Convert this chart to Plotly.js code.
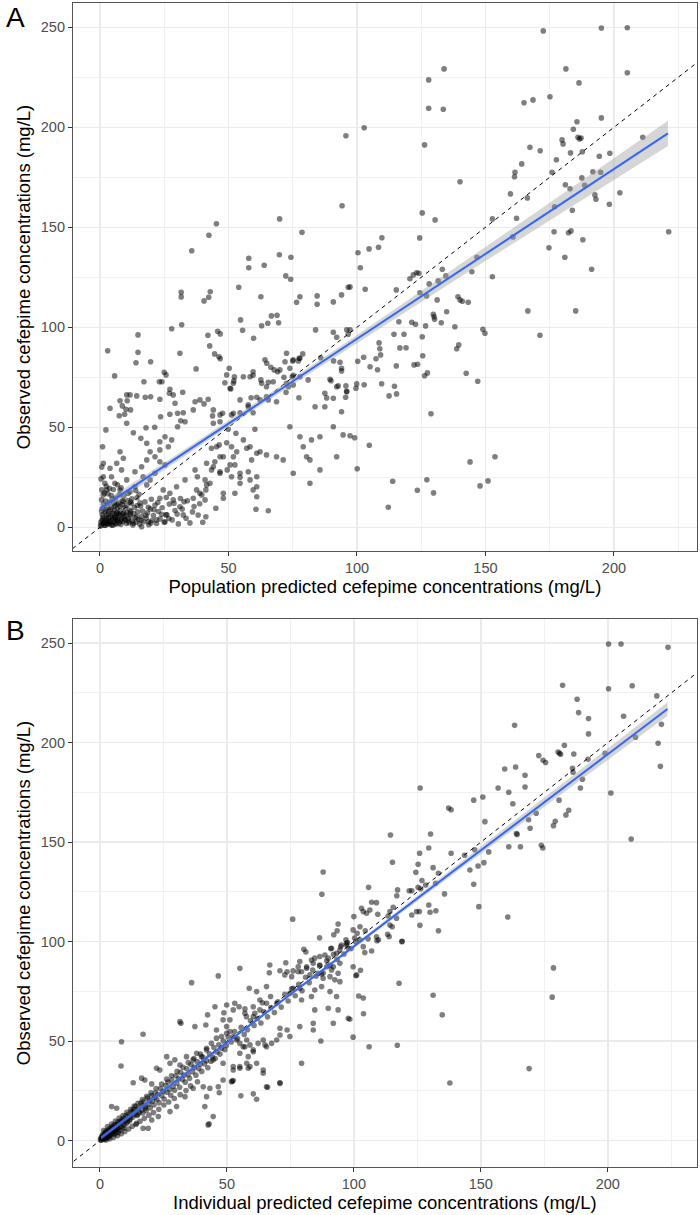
<!DOCTYPE html>
<html>
<head>
<meta charset="utf-8">
<script src="https://cdn.plot.ly/plotly-3.0.1.min.js"></script>
<style>html,body{margin:0;padding:0;background:#fff}#chart{width:700px;height:1215px}</style>
</head>
<body>
<div id="chart"></div>
<script>
// ---------- Panel A: observed vs population predicted (mg/L) ----------
const pointsA = [
[172.5,248.2],[195.1,249.6],[205.2,249.8],[133.9,229.2],[127.9,223.7],[181.3,229.2],[205.2,227.3],[186.4,222.2],[127.9,209.5],[133.6,209],[165,212.3],[168.5,213.7],[175.1,215.3],[102.8,199.8],[126.3,191.2],[195.1,204.7],[185.6,202.8],[184.2,199],[186,195],[187.2,194.6],[186.6,194.2],[179.8,193.7],[180.2,191.7],[211.2,195],[167.3,190],[171.3,188.3],[187.7,187.8],[183.1,187.2],[194.3,185.5],[198.4,187],[177.6,183.8],[164.1,181.7],[161.5,177.5],[161.3,175.3],[175.9,177.5],[191.8,177.8],[194.8,177.5],[187.5,174.7],[140.1,172.8],[181.1,171.3],[182.9,169.3],[188.6,171],[159.7,166.7],[166.3,164.7],[192.6,166.2],[193,164],[202.3,167.3],[198.2,161.5],[176.9,160.3],[183.8,158.5],[125.4,157.2],[130.4,153.7],[162.1,154.5],[152.7,154.2],[176.7,147.8],[183.3,148.2],[182.3,147.3],[221.3,147.8],[109.7,144.8],[124.4,144.7],[160.7,145.2],[187.9,143.8],[100.4,137.3],[104.7,139.2],[108.4,140],[174.7,139.8],[180.9,135],[146.7,135],[101.3,129.8],[191.3,129],[120.6,124.3],[121.9,126.2],[123.2,127.3],[124.1,127],[133.2,129],[134.6,125.7],[128.1,121.7],[131.6,123.2],[144.7,127.8],[152.7,125.3],[103.2,119],[115.3,118.7],[124.5,117.3],[127.1,115.7],[139.3,115.3],[141,113],[97.3,120.2],
[166.5,108.2],[185.1,108.2],[171.2,96],[131.2,113.7],[140.1,113.7],[143.3,112.5],[134.9,107.8],[129.7,106.5],[130,105.3],[130.2,104],[132.8,102.3],[138.1,100.3],[126.7,100.7],[121.3,102.5],[122.8,101.5],[116.3,102.8],[125.4,95.3],[114.4,96.5],[118.3,96.5],[149,99],[149.8,97],[139.6,91.2],[138.8,89.3],[116.7,89.7],[119.1,89.8],[108.6,92.2],[108.9,89.3],[109.2,86.2],[107.4,84.3],[108,78.8],[125.6,85.8],[100.3,83],[102.6,85],[105.1,80.3],[122.2,81.2],[123.6,81.5],[115.3,80.7],[126.3,75.8],[127.4,77.2],[142.5,77],[147,73],[102.8,71.3],[99.6,69.5],[109.6,71.8],[114.6,70.5],[115.4,66.7],[112.5,65.7],[128.8,56.8],[97.3,45.8],[99.1,44.8],[104.8,41],[144,32.7],[153.7,35.3],[100.1,29.3],[113.9,23],[127.2,23.8],[123.5,18.5],[129.8,17.2],[147.9,20.7],[151,23.2],[112.2,10],
[95.7,195.8],[94.2,160.8],[45.3,151.8],[42.4,146],[35.7,138.3],[69.9,154.2],[78.6,147.5],[69.8,136.3],[74.3,135],[57.9,134.5],[57.9,129.8],[63.9,131],[72.3,125.7],[74.2,124],[54,120],[31.6,117.5],[31.6,115.2],[42.9,117.8],[42.3,115],[62.6,115.3],[77.8,115.3],[84.5,115.7],[94,116.2],[96.6,120],
[40.5,113.2],[76.5,112.5],[84.5,111.5],[90.8,112.7],[31.8,101.3],[54.7,103.7],[55.5,98.5],[66.7,105.7],[68.9,106],[69.5,102.3],[65.3,102],[62.9,100.8],[59.8,94.5],[42,96],[45.8,98],[46.8,96.7],[42.7,90.7],[44.6,86.7],[46.3,85.3],[46.8,84.3],[31.1,87],[37.4,79.2],[50.3,79.5],[48.6,72.3],[52.3,75.2],[52.1,73.2],[50.9,69.2],[32.2,67.5],[83.9,98.7],[90.8,97.5],[92.1,95],[96,98.8],[97.3,98.7],[96.6,96.5],[64.2,83.8],[64.9,82],[66.5,80],[67.8,78.7],[69.1,77.8],[58.4,75.3],[59.6,76],[62.9,72],[65.5,72.5],[72.6,87],[75,83.2],[77.2,83.2],[77.5,84.5],[78.9,86.7],[71.6,75],[74.8,75.3],[75.2,76],[72.4,67.5],[73.3,70.3],[58.8,64.8],[77.4,64.8],[85.9,84.8],[90.9,83.2],[93.4,82.5],[94,79.5],[94,78.2],[89.5,74],[89.9,73.3],[92.7,70.7],[95.7,70.7],[96,68],[95.6,65],[88.2,64.7],[99.9,71.7],
[3,88.3],[5.7,75.7],[14.8,96.2],[14.8,87.5],[14,82.3],[19.7,82.8],[27.9,99.3],[25,77.5],[25.7,76.2],[24.1,72.8],[23.1,72.8],[17.1,72.8],[10.4,66.2],[11.7,66.2],[14.3,65.7],[17.6,65],[27.2,69],[27,67],
[7.8,63.3],[10.6,63.3],[3.9,59.5],[8.7,60.7],[10.1,59],[11.9,58.7],[7.5,55.8],[9.6,56.5],[10.4,52],[2.3,48.7],[13,47.3],[15.9,44.5],[17.9,49.8],[21.3,50],[23.6,55.3],[27.2,56.5],[19.7,65.3],[23.3,64],[28.5,66.2],[29.2,62],[30.2,57],[31.4,53.3],[30.2,50.3],[32.4,57.3],[33.1,52.8],[36.3,58.7],[37,62.8],[42.1,64],[43.8,55.7],[47.7,57],[51.2,56.2],[54.5,57.3],[44.1,52],[46.7,52.8],[49.9,49],[52.9,47],[55.8,43.7],[57.7,61.2],[59.6,57.3],[60.3,49],[51.2,40.3],[53.2,37.8],[57.1,39.5],[61,37],[59,33.7],[43.4,39.5],[46.4,41.2],[49.3,42.3],[44.7,32.8],[48,35.3],[43.4,28.7],[46.7,27.8],[49.5,28.7],[52.5,31.2],[51.2,25.3],[54.5,25],[57.7,27.8],[61,25.3],[52.5,17],[48,14.5],[45.1,9.5],[60.7,9],[59.6,18.7],[37,28.7],[41.5,32],[37.9,25.3],[40.9,23.7],[42.8,22],[41.2,18.7],[39.6,16.2],[36.3,14.5],[32.7,12.8],[37.6,18.7],[33.1,23.7],[29.8,20.3],[27.2,17],[28.5,13.7],[31.1,10.3],[32.4,6.2],[24.6,18.7],[23.3,14.5],[25.7,6.2],[25.3,2.8],[22,3.7],[18.8,2.8],[16.2,0.3],[23.3,38.7],[23.3,32.8],[25.3,31.2],[21.4,35.3],[19.5,37.8],[26.6,40.3],[27.9,43.7],[25.3,45.3],[23.3,42.8],[18.2,42],[18.2,33.7],[16.2,30.3],[13.6,27.8],[16.8,25.3],[19.5,23.7],[21.4,27],[18.2,21.2],[13.6,20.3],[10.4,23.7],[11.7,17.8],[7.8,37.8],[9.1,34.5],[6.5,32],[3.9,29.5],[8.4,28.7],[4.5,25.3],[1.3,25.3],[1.9,22],[5.8,22],[7.8,18.7],[1.3,32],[1,40.3],[1.3,16.2],[0.7,18.7],[2.6,18.7],
[38.9,63.7],[40.5,61.7],[44.1,58.7],[46.7,56.2],[51.9,57],[54.5,63.7],[57.7,60.3],[62.3,63.7],[65.5,63.7],[68.7,62.8],[49.3,76.2],[50.6,69.5],[51.9,72],[55.8,75.3],[59.6,77.8],[61,65],[64.8,65.3],[62.6,73.7],[64.8,70.3],[67.4,72.8],[72.6,72],[75.2,71.2],[77.8,75.3],[81,73.7],[77.8,84.5],[75.2,83.7],[72,82.8],[70,78.7],[73.9,79.5],[87.5,67],[92.1,70.3],[96,67.8],[90.8,64.5],[83.7,60.3],[87.5,60.3],[94,57.8],[73.9,50.3],[77.8,45.3],[82.3,43.7],[85.6,45.3],[71.3,33.7],[68.7,35.3],[64.8,36.2],[62.3,37.8],[58.4,40.3],[79.1,40.3],[80.4,35.3],[81.7,33.7],[75.2,27],[81.7,22],[85.6,28.7],[92.1,35.3],[51.9,35.3],[50.6,31.2],[54.5,27],[58.4,23.7],[61,20.3],[61,15.3],[65.5,8.3],[45.4,40.3],[46.7,35.3],[44.1,30.3],[46.7,27],[41.5,21.2],[38.9,17],[40.9,13.7],[41.2,5.3],[48,17],[54.5,22],[90.8,50.3],[94.6,46.2],
[0.5,1.2],[0.8,3.5],[1.2,5.1],[1.5,2.2],[1.9,7.8],[2.1,0.9],[2.4,4.3],[2.7,10.2],[2.9,1.8],[3.2,6.5],[3.4,3.1],[3.6,12.5],[3.9,2.4],[4.1,8.9],[4.3,5.5],[4.6,1.1],[4.8,14.2],[5.1,3.8],[5.3,7.1],[5.5,2.6],[5.8,10.8],[6,4.7],[6.2,1.5],[6.5,6.2],[6.7,9.4],[6.9,3.3],[7.2,12.1],[7.4,2.1],[7.6,5.9],[7.9,8.2],[8.1,1.4],[8.3,4.1],[8.6,11.3],[8.8,6.8],[9,2.9],[9.3,15.6],[9.5,5.2],[9.8,9.7],[10,3.6],[10.3,1.9],[10.5,7.4],[10.8,13.4],[11,4.4],[11.3,2.3],[11.6,8.6],[11.9,5.8],[12.2,11.9],[12.5,3.1],[12.8,1.2],[13.1,6.9],[13.4,9.9],[13.7,4.8],[14,2.6],[14.4,14.8],[14.7,7.7],[15,3.9],[15.4,1.6],[15.8,10.6],[16.2,5.4],[16.6,8.1],[17,2.8],[17.5,12.7],[18,4.6],[18.5,7.2],[19,1.3],[19.6,9.2],[20.2,3.4],[20.8,5.9],[21.4,11.1],[22,1.9],[22.7,7.9],[23.4,4.2],[24.2,9.8],[25,2.5],[26,6.3],[27,11.6],[28.1,3.7],[29.2,8.4],[30.5,1.7],[32,9.1],[33.5,4.5],[35,2.2],[36.6,10.4],[38.2,6.1],[1,9.3],[0.6,13.8],[1.7,17.2],[2.2,13.1],[0.9,6.3],[1.4,11.6],[2.5,20.5],[3.1,16.8],[0.4,24.2],[3.7,19.4],[0.7,30.1],[4.4,15.9],[5.2,18.9],[6.1,14.6],[6.8,21.3],[7.5,16.2],[8.2,19.7],[9.1,12.9],[10.9,16.9],[12.4,14.3],[13.9,18.4],[15.2,16.5],[2,3],[3,2],[4,3],[5,1],[6,2],[7,4],[8,3],[3.5,8],[4.5,10],[5.5,12],[6.5,7],[7.8,10.5],[9.2,7.3],[10.4,10.9],[11.7,6.6],[2.6,5.9],[1.1,4],[0.3,2.5],[1.8,1],[2.3,8.7],[3.3,4.9],[4.7,6.7],[5.9,5],[6.4,3.8],[7.1,6.9],[8.5,5.6],[9.6,4],[10.1,6.1],[11.2,3.3],[12,7.9],[13,2],[14.2,5.2],[16,3.5],[17.8,6],[19.8,2.2],[21,8.8],[24,6.5],[26.8,4.4],[30,6.6],[34,13.3],[40,2.5],[0.2,0.6],[0.6,8.1],[1.3,1.9],[2.8,3.6],[3.8,1.5],[4.9,4.6],[5.7,8.6],[6.6,11.4],[8.7,13.2],[11.9,12.6],[14.5,10.9],[15.6,12.2],[18.8,10],[20,14],[22.5,12.4],[25.8,14.9],[28.8,12],[31.3,14.4],[36,7.7],[38.8,11.8]
];
// linear fit and its 95% band
const fitA_x = [0, 221];
const fitA_y = [9.3, 197];
const bandA_x = [0, 25, 50, 75, 100, 125, 150, 175, 200, 221];
const bandA_lo = [7.0, 28.7, 50.3, 71.4, 92.2, 112.7, 133.2, 153.5, 173.7, 190.7];
const bandA_hi = [11.6, 32.3, 53.3, 74.6, 96.2, 118.1, 140.2, 162.3, 184.5, 203.3];

// ---------- Panel B: observed vs individual predicted (mg/L) ----------
const pointsB = [
[200.3,249.6],[205.2,249.6],[223.7,247.9],[182.2,228.8],[200.3,227.1],[209.6,228.6],[219.3,223.5],[187.9,221.8],[188.5,215.1],[192.4,212.1],[206.2,213.3],[221.1,209.2],[163.3,208.7],[192.4,204.4],[210.9,202.7],[219.8,199.7],[220.7,188.1],[182.9,198.7],[180.4,195.3],[181,194.7],[181.4,194.2],[186.6,194.3],[172.8,193.5],[174.5,191.2],[175.5,190],[198.9,194.7],[192.2,191.7],[159.4,186.8],[163.7,187.8],[186.1,187.1],[186.3,185.1],[167.4,183.6],[190,181.6],[189.2,177.2],[156.8,177.2],[161,175.1],[167.4,177.7],[126.1,177.2],[201.2,174.7],[147.2,171.1],[150.8,172.7],[162.6,169.3],[180.8,171.1],[137.3,167.2],[138.3,166.3],[171.8,164.5],[168.8,161.3],[169.4,157],[184.6,166],[183.5,163.7],[151.6,160.3],[179.3,160.5],[178.6,158.3],[114.4,153.6],[130.2,154.1],[164,154.3],[164.3,153.9],[209.2,151.6],[129.5,147.1],[161,147.7],[165.6,147.7],[173.8,148.4],[174.4,147.1],[115.2,139.9],[125.9,144.4],[125.3,138.9],[138.3,144.4],[143.6,143.4],[147.6,146.2],[153.1,145.1],[124.4,134.9],[126.8,130.7],[131.2,137.2],[133.3,134.4],[145.7,136],[148.9,138],[151.2,139.7],[147.2,128.8],[105.8,127.3],[117.2,126],[116.9,123.1],[121.8,125.6],[122.8,125.6],[125.3,127.3],[126.3,126.6],[128.3,128.5],[132.2,129.3],[135.7,124],
[149.2,117.6],[160.6,112.4],[178.6,86.8],[178.1,72.1],[169,36.2],[137.8,29],[117.8,79.1],[131.2,73.1],[134.8,63.2],[117.1,47.9],[106,47.2],[99.7,52],[98.4,61],[103.8,63.8],[101.9,72.7],[103.7,71.7],[100.8,82.9],[102.6,85.6],[118.9,100],[129.5,118.4],[130,114.8],[132.3,115.5],[126,108.2],[125.8,115.1],[124.7,115.1],[122.8,113.4],[133.3,105.5],[115.5,117.3],[114.2,115.1],[113.5,112.9],[116.8,111.8],[114.2,108.4],[115.1,107.5],[113.3,103.7],[113.9,102.5],[108.9,119.6],[107,119.8],[106.3,115.9],[105,114.3],[103.7,115.1],[103,116.8],[109.4,113.8],[108.9,102.5],[109.1,100.5],[105.6,101.4],[100,112.6],[99.7,105.9],[101.3,104.2],[100.8,100],[103.7,97.5],[104.3,94.5],[107,95.3],[102.4,100.9],[102.4,107.5],[104.5,105.5],[109.7,100.9],[119,100.2],
[87.9,135],[87.4,123.8],[75.9,111.3],[86.5,101.9],[80.3,96.2],[81.1,94.8],[90.9,96.5],[93.8,108.9],[93.4,105.5],[92.1,103.5],[95.1,98.3],[97.1,98.3],[97.8,96.7],[96.9,100.9],[86.6,92.5],[84,89.1],[81.4,87.4],[78.7,90],[78.1,84.9],[75.5,82.4],[72.8,83.3],[66.9,88.3],[66.7,84.4],[70.9,85.4],[82.7,83.3],[86,84.1],[87.9,81.6],[90.6,82.4],[93.8,84.1],[94.5,89.1],[89.3,87.4],[91.2,85.8],[99.7,87.4],[101.1,83.3],
[46.6,82.8],[36.1,79.4],[55.1,86.6],[58.8,76.6],[61.7,74.9],[65.6,77.4],[67.2,72.4],[69.6,69],[51.2,60.7],[52.5,65.7],[54.8,67.3],[57.1,64],[60.4,62.3],[63,65.7],[65.6,69],[31.9,59],[37.4,57.3],[41.7,58.1],[45.3,67.3],[49.9,68.2],[70.9,56.5],[73.7,55.6],[74.8,52.3],[78.7,57.3],[84,55.6],[87,50.1],[84,59],[79.4,38.9],[70.9,29.1],[66,26.8],[60.4,23.5],[61.7,20.8],[52.5,37.2],[55.1,36.4],[58.4,36.4],[61.7,38.9],[64.3,33.9],[51.8,29.6],[52.1,29.9],[55.5,22.5],[65,48.1],[60.4,44.7],[57.1,47.2],[58.4,42.2],[55.1,43.9],[42,22.1],[44.6,12.1],[43,8.4],[47,24.1],[8.5,49.7],[8.3,37.5],[17,53.5],
[73.2,89.4],[73.7,84.9],[76.1,85.3],[78.1,87.4],[79.4,84.9],[81.4,86.6],[83.3,90.8],[84.6,91.7],[86.6,88.3],[88.6,93.3],[89.9,91.7],[91.2,96.7],[93.2,94.2],[94.5,95.8],[97.1,99.2],[91.9,87.4],[87.3,83.8],[92.5,80.8],[94.5,79.9],[87.3,77.4],[84.6,75.7],[83.3,72.4],[78.7,76.6],[76.1,76.6],[74.8,74.1],[90.6,74.9],[93.2,72.4],[93.8,65.7],[89.9,66.5],[84.6,65.7],[79.4,70.7],[97.8,61.5],[91.9,59],
[63,70.7],[64,69.3],[48.8,64.3],[53.1,69],[57.1,66.2],[60.4,67.3],[61,64],[57.7,62.3],[42.4,63.2],[31.5,59.8],[48.5,60.7],[49.9,57.3],[51.2,54.8],[52.5,52.3],[53.8,50.6],[55.1,48.9],[56.4,47.2],[57.8,50.6],[59.1,48.1],[60.4,45.6],[62.3,48.9],[64.3,50.6],[65.6,47.2],[67.6,48.9],[69.6,50.6],[70.9,53.1],[42,45.6],[44.6,40.6],[48.5,38.9],[52.5,35.5],[55.1,37.2],[57.8,38.9],[59.1,37.2],[64.3,35.5],[65.6,27.1],[70.9,28.8],[48.5,30.5],[52.5,30.2],[46.6,27.1],[43.3,26.3],[40.7,27.1],[36.7,26.3],[41.3,17.1],[42.6,7.9],[33.5,22.1],[30.2,17.1],[27.6,14.6],[23,12.1],[20.4,10.4],[19,6.2],[17,6.2],[14.4,8.7],[23.6,35.5],[22.3,36.4],[16.4,31.4],[17.7,30.5],[20.4,28.5],[13.1,29.1],[4.6,17.1],[6.6,16.3],[26.3,42.2],[29.5,40.6],[31.5,38],[27.6,38.9],[34.1,42.2],[36.7,40.6],[38.1,43.9],[40,42.2],[42,46.4],[43.9,48.9],[45.9,51.5],[47.9,52.3],[45.9,55.6],[49.9,54],
[0.2,0.5],[0.4,1.3],[0.5,0.2],[0.7,2.1],[0.8,0.9],[1,1.6],[1.1,3],[1.3,0.6],[1.4,2.4],[1.6,1.2],[1.7,3.7],[1.9,2],[2,0.8],[2.2,4.4],[2.3,2.7],[2.5,1.5],[2.6,3.3],[2.8,5.1],[2.9,2.2],[3.1,3.9],[3.2,1.4],[3.4,4.8],[3.5,3],[3.7,6],[3.8,2.5],[4,4.1],[4.2,5.5],[4.3,3.4],[4.5,6.6],[4.7,2.9],[4.9,4.9],[5,7.2],[5.2,3.8],[5.4,5.8],[5.6,4.5],[5.8,8.1],[6,5.1],[6.2,6.9],[6.4,3.9],[6.6,7.8],[6.8,5.7],[7,9.2],[7.2,6.4],[7.5,8.3],[7.7,5.2],[8,9.6],[8.2,7.1],[8.5,10.4],[8.8,6.6],[9,8.8],[9.3,11.2],[9.6,7.9],[9.9,10.1],[10.2,12.3],[10.5,8.7],[10.9,11],[11.2,13.2],[11.6,9.9],[12,12.1],[12.4,14.6],
[1.5,5.2],[2.4,0.3],[3,7.1],[3.9,0.9],[4.6,8.3],[5.3,1.6],[6.1,9.8],[6.9,2.4],[7.6,11.3],[8.4,3.5],[9.1,12.6],[9.8,4.6],[10.6,14.2],[11.3,5.8],[12.1,15.7],[12.7,7.2],[13.5,17.4],[14.2,8.1],[15,18.8],[15.8,9.7],[16.7,20.6],[17.5,11.2],[18.4,22.3],[19.3,12.8],[20.1,24],[21.1,14.1],[22.1,26.2],[23.2,15.8],[24.3,28.4],[25.2,17.9],[26.3,30.9],[27.1,19.4],[28.2,32.6],[29.3,21.2],[30.4,34.8],[31.6,23.1],[32.7,36.9],[33.9,25.2],[34.8,39.2],[35.7,27.5],[37,41.3],[38.4,29.6],[39.6,43.5],[2,2.6],[3.3,2.1],[4.4,4.6],[5.1,5.9],[5.9,3.2],[6.7,6.1],[7.4,4.3],[8.9,9.9],[9.4,6.2],[10.8,9.6],[11.9,10.8],[13.1,14.8],[14.9,13.1],[16.6,17.8],[17.9,16.3],[19.6,20.2],[21.6,21.7],
[12.9,11.8],[13.3,15.9],[13.8,13.1],[14.1,17.2],[14.6,12.6],[15.1,16.1],[15.5,14.2],[16.1,18.9],[16.4,15.3],[16.9,13.9],[17.3,19.6],[17.9,17.1],[18.2,15.2],[18.7,21.4],[19.2,18.3],[19.8,16.4],[20.3,22.6],[20.7,19.8],[21.3,17.9],[21.8,24.1],[22.4,20.7],[22.9,23.3],[23.3,19.1],[23.8,26.2],[24.4,22.6],[24.9,24.8],[25.3,20.9],[25.9,27.7],[26.4,24.3],[26.8,29.5],[27.4,25.7],[27.9,22.8],[28.3,30.4],[28.8,27.2],[29.4,25.3],[29.9,32.6],[30.3,28.9],[30.9,31.1],[31.4,26.8],[31.8,34.3],[32.5,30.7],[33.1,32.9],[33.6,29.4],[34.2,36.1],[34.7,33.2],[35.3,31.3],[35.9,38.2],[36.5,34.6],[37.1,36.8],[37.8,32.9],[38.3,39.7],[38.9,36.2],[39.5,38.4],[40.1,34.8],[40.6,41.9],[41.2,38.7],[41.9,40.2],[42.5,36.6],[43.1,43.7],[43.7,39.9],[44.3,42.1],[44.9,46.8],[45.4,41.3],[46.1,44.6],[46.8,48.2],[47.3,43.5],[47.9,46.4],[48.6,50.1],[49.2,45.7],[49.8,47.8],
[50.5,52.1],[51.7,49.6],[53,54.8],[54.2,51.3],[55.6,56.9],[56.8,53.4],[58.1,55.7],[59.3,60.2],[60.7,57.9],[62,61.4],[63.4,59.1],[64.6,64.8],[66,62.2],[67.3,66.9],[68.7,64.4],[70.1,69.8],[71.4,67.1],[72.8,73.5],[74.1,70.2],[75.5,76.3],[76.9,72.8],[78.3,78.6],[79.6,75.3],[81,82.1],[82.4,79.4],[83.8,85.7],[85.1,82.6],[86.5,87.9],[87.9,84.3],[89.3,90.4],[90.6,88.2],[92,93.6],[93.4,91.1],[94.8,97.4],[96.1,93.8],[97.5,99.6],[98.9,96.5],[100.3,101.8]
];
const fitB_x = [0.5, 223.5];
const fitB_y = [1.5, 216.9];
const bandB_x = [0.5, 25, 50, 75, 100, 125, 150, 175, 200, 223.5];
const bandB_lo = [0.5, 24.4, 48.6, 72.8, 96.7, 120.5, 144.1, 167.8, 191.3, 213.5];
const bandB_hi = [2.5, 26.0, 50.0, 74.2, 98.5, 123.1, 147.7, 172.4, 197.1, 220.3];

// identity line y = x (drawn across the whole panel, clipped by the axes)
const identity = [-50, 300];

// ---------- text ----------
const xTitleA = 'Population predicted cefepime concentrations (mg/L)';
const xTitleB = 'Individual predicted cefepime concentrations (mg/L)';
const yTitle = 'Observed cefepime concentrations (mg/L)';
const tickVals = [0, 50, 100, 150, 200, 250];
const minorVals = [25, 75, 125, 175, 225];

function panelTraces(points, fitX, fitY, bX, bLo, bHi, xa, ya) {
  return [
    {type:'scatter', mode:'markers', x:points.map(p=>p[0]), y:points.map(p=>p[1]), xaxis:xa, yaxis:ya,
     marker:{size:5.6, color:'rgba(0,0,0,0.5)', line:{width:0}}, hoverinfo:'skip'},
    {type:'scatter', mode:'lines', x:identity, y:identity, xaxis:xa, yaxis:ya,
     line:{color:'#000', width:1, dash:'4px,4px'}, hoverinfo:'skip'},
    {type:'scatter', mode:'lines', x:bX.concat(bX.slice().reverse()), y:bLo.concat(bHi.slice().reverse()),
     xaxis:xa, yaxis:ya, fill:'toself', fillcolor:'rgba(153,153,153,0.4)', line:{width:0}, hoverinfo:'skip'},
    {type:'scatter', mode:'lines', x:fitX, y:fitY, xaxis:xa, yaxis:ya,
     line:{color:'#3366FF', width:2}, hoverinfo:'skip'}
  ];
}

const FONT = 'Liberation Sans, Arial, Helvetica, sans-serif';
function common() {
  return {
    ticks:'outside', ticklen:4, tickwidth:1, tickcolor:'#333',
    tickfont:{family:FONT, size:14.5, color:'#4D4D4D'},
    showgrid:true, gridcolor:'#EBEBEB', gridwidth:1.4,
    minor:{tickvals:minorVals, showgrid:true, gridcolor:'#EBEBEB', gridwidth:0.7, ticks:''},
    zeroline:false, showline:true, mirror:true, linecolor:'#555', linewidth:1.1,
    automargin:false, fixedrange:true
  };
}
function xAxis(range, title, anchor) {
  return Object.assign(common(), {
    range: range, domain:[73/700, 696.7/700], anchor: anchor,
    tickvals: tickVals.slice(0,5),
    title:{text:title, font:{family:FONT, size:18.5, color:'#000'}, standoff:4}
  });
}
function yAxis(range, domain, anchor) {
  return Object.assign(common(), {
    range: range, domain: domain, anchor: anchor,
    tickvals: tickVals,
    title:{text:yTitle, font:{family:FONT, size:18.5, color:'#000'}, standoff:5}
  });
}

const data = [].concat(
  panelTraces(pointsA, fitA_x, fitA_y, bandA_x, bandA_lo, bandA_hi, 'x', 'y'),
  panelTraces(pointsB, fitB_x, fitB_y, bandB_x, bandB_lo, bandB_hi, 'x2', 'y2')
);

const layout = {
  width:700, height:1215,
  margin:{l:0, r:0, t:0, b:0},
  paper_bgcolor:'#fff', plot_bgcolor:'#fff',
  showlegend:false,
  font:{family:FONT, color:'#4D4D4D'},
  xaxis: xAxis([-10.5, 232.2], xTitleA, 'y'),
  yaxis: yAxis([-11.7, 262], [1-550.7/1215, 1-3.3/1215], 'x'),
  xaxis2: xAxis([-10.6, 235], xTitleB, 'y2'),
  yaxis2: yAxis([-13.1, 262], [1-1166.7/1215, 1-619.3/1215], 'x2'),
  annotations:[
    {text:'A', xref:'paper', yref:'paper', x:4/700, y:1.0, xanchor:'left', yanchor:'top', showarrow:false,
     font:{family:FONT, size:28, color:'#000'}},
    {text:'B', xref:'paper', yref:'paper', x:4/700, y:1-613/1215, xanchor:'left', yanchor:'top', showarrow:false,
     font:{family:FONT, size:28, color:'#000'}}
  ]
};

Plotly.newPlot('chart', data, layout, {staticPlot:true, displayModeBar:false});
</script>
</body>
</html>
